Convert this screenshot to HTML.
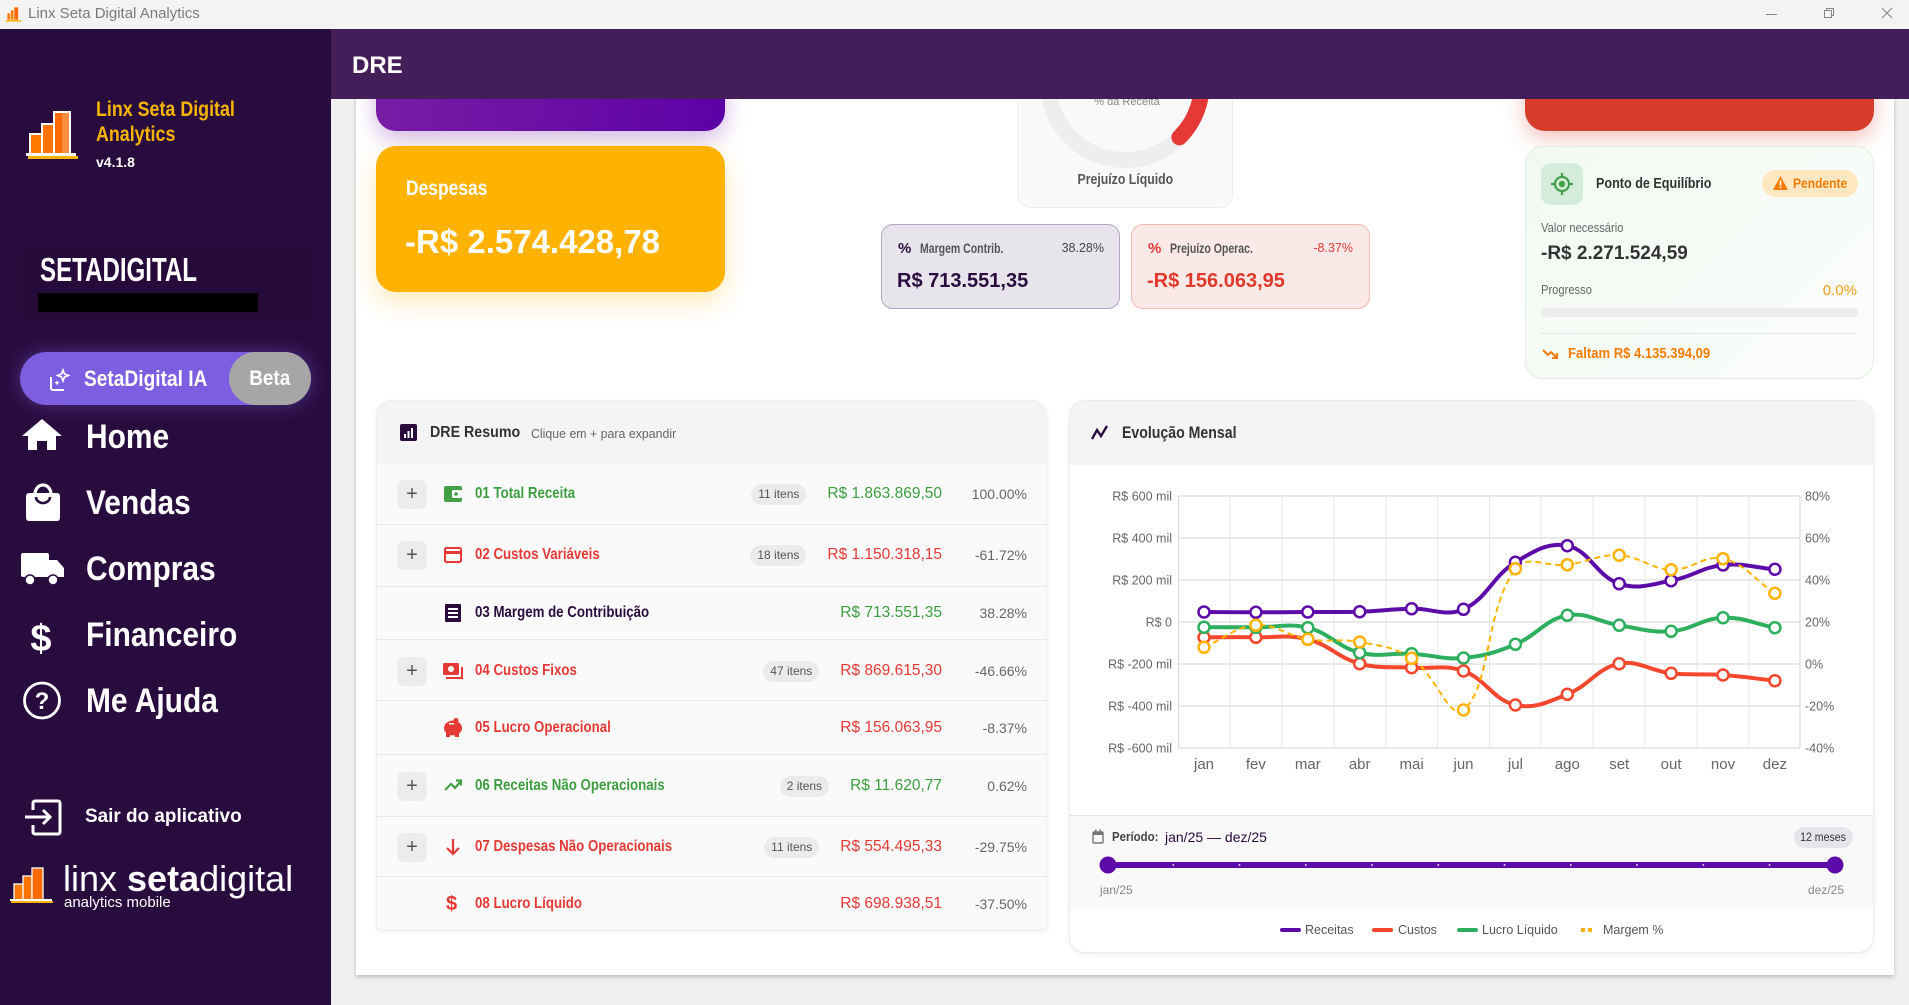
<!DOCTYPE html>
<html><head><meta charset="utf-8">
<style>
*{box-sizing:border-box;margin:0;padding:0}
body{width:1909px;height:1005px;overflow:hidden;position:relative;background:#f0f0f0;font-family:"Liberation Sans",sans-serif;color:#333}
.a{position:absolute}
.t{position:absolute;white-space:nowrap;height:20px;line-height:20px}
.s{display:inline-block;transform-origin:0 50%;white-space:nowrap}
.r{text-align:right}
.r .s{transform-origin:100% 50%}
.c{text-align:center}
.c .s{transform-origin:50% 50%}
.b{font-weight:bold}
.pl{position:absolute;left:397px;width:30px;height:29px;background:#ececec;border-radius:7px;color:#555;font-size:20px;line-height:28px;text-align:center}
.dv{position:absolute;left:376px;width:671px;height:1px;background:#e6e6e6}
.vb{position:absolute;right:967px;height:22px;display:flex;align-items:center;gap:21px;white-space:nowrap}
.bd{background:#ebebeb;border-radius:11px;height:21px;line-height:21px;padding:0 7px;font-size:12px;color:#555}
.vl{font-size:15.5px}
.pc{position:absolute;right:882px;height:20px;line-height:20px;font-size:14px;color:#666;white-space:nowrap}
.g{color:#3d9e40}.rd{color:#e53935}
.nv{position:absolute;left:86px;height:40px;line-height:40px;font-size:34px;font-weight:bold;color:#fff;white-space:nowrap}
</style></head><body>

<!-- sidebar -->
<div class="a" style="left:0;top:29px;width:331px;height:976px;background:#290c3e"></div>
<svg class="a" style="left:24px;top:108px" width="60" height="52" viewBox="0 0 60 52">
<rect x="6" y="26" width="12" height="20" fill="#ff7a00" stroke="#fff" stroke-width="2"/>
<rect x="18" y="16" width="12" height="30" fill="#ff7300" stroke="#fff" stroke-width="2"/>
<rect x="30" y="4" width="16" height="42" fill="#ff6a00" stroke="#fff" stroke-width="2"/>
<rect x="38" y="4" width="8" height="42" fill="#fff" opacity=".25"/>
<rect x="2" y="45" width="50" height="3" fill="#fff"/><rect x="4" y="48" width="50" height="3" fill="#ffb300"/>
</svg>
<div class="t b" style="left:96px;top:100px;font-size:21px;color:#f7b500"><span class="s" style="transform:scaleX(.85)">Linx Seta Digital</span></div>
<div class="t b" style="left:96px;top:125px;font-size:21px;color:#f7b500"><span class="s" style="transform:scaleX(.85)">Analytics</span></div>
<div class="t b" style="left:96px;top:152px;font-size:14px;color:#fff">v4.1.8</div>

<div class="a" style="left:21px;top:248px;width:289px;height:72px;background:#260a39;border-radius:10px"></div>
<div class="t b" style="left:40px;top:255px;height:30px;line-height:30px;font-size:33px;color:#fff"><span class="s" style="transform:scaleX(.73)">SETADIGITAL</span></div>
<div class="a" style="left:38px;top:293px;width:220px;height:19px;background:#000"></div>

<div class="a" style="left:20px;top:352px;width:291px;height:53px;background:#7d5ee0;border-radius:27px;box-shadow:0 0 18px rgba(125,94,224,.45)"></div>
<div class="a" style="left:229px;top:352px;width:82px;height:53px;background:#a6a6a6;border-radius:27px"></div>
<svg class="a" style="left:48px;top:368px" width="26" height="24" viewBox="0 0 26 24"><path d="M3 9v11a2 2 0 0 0 2 2h11" fill="none" stroke="#fff" stroke-width="2"/><path d="M15 2l1.5 4 4 1.5-4 1.5-1.5 4-1.5-4-4-1.5 4-1.5z" fill="none" stroke="#fff" stroke-width="1.6"/><path d="M9 12l.8 2 2 .8-2 .8-.8 2-.8-2-2-.8 2-.8z" fill="#fff"/></svg>
<div class="t b" style="left:84px;top:369px;font-size:22px;color:#fff"><span class="s" style="transform:scaleX(.87)">SetaDigital IA</span></div>
<div class="t b c" style="left:229px;top:369px;width:82px;font-size:21px;color:#fff"><span class="s" style="transform:scaleX(.9)">Beta</span></div>

<!-- nav icons -->
<svg class="a" style="left:0;top:400px" width="331" height="520" viewBox="0 400 331 520">
<path d="M42 419L62 436H56V450H47V441H37V450H28V436H22Z" fill="#fff"/>
<rect x="26" y="493" width="34" height="28" rx="3" fill="#fff"/>
<path d="M35 494a8 9 0 0 1 16 0" fill="none" stroke="#fff" stroke-width="3.2"/>
<path d="M36 497a7 6 0 0 0 14 0" fill="none" stroke="#290c3e" stroke-width="2.6"/>
<rect x="21" y="553" width="28" height="24" rx="2" fill="#fff"/>
<path d="M49 560h8l7 8v9H49Z" fill="#fff"/>
<circle cx="30" cy="580" r="5" fill="#fff" stroke="#290c3e" stroke-width="1.6"/>
<circle cx="53" cy="580" r="5" fill="#fff" stroke="#290c3e" stroke-width="1.6"/>
<text x="41" y="651" text-anchor="middle" font-family="Liberation Sans" font-weight="bold" font-size="38" fill="#fff">$</text>
<circle cx="42" cy="700.5" r="17.5" fill="none" stroke="#fff" stroke-width="2.8"/>
<text x="42" y="709" text-anchor="middle" font-family="Liberation Sans" font-weight="bold" font-size="24" fill="#fff">?</text>
<path d="M33 810V803a2 2 0 0 1 2-2h23a2 2 0 0 1 2 2v29a2 2 0 0 1-2 2H35a2 2 0 0 1-2-2v-7" fill="none" stroke="#fff" stroke-width="3"/>
<path d="M25 817H50M43 810L50 817L43 824" fill="none" stroke="#fff" stroke-width="3"/>
<rect x="14" y="884" width="9" height="16" fill="#ff7a00" stroke="#fff" stroke-width="1.3"/>
<rect x="23" y="876" width="9" height="24" fill="#ff7300" stroke="#fff" stroke-width="1.3"/>
<rect x="32" y="868" width="11" height="32" fill="#ff6a00" stroke="#fff" stroke-width="1.3"/>
<rect x="10" y="899" width="42" height="2" fill="#fff"/><rect x="11" y="901" width="42" height="2" fill="#ffb300"/>
</svg>
<div class="nv" style="top:417px"><span class="s" style="transform:scaleX(.88)">Home</span></div>
<div class="nv" style="top:483px"><span class="s" style="transform:scaleX(.88)">Vendas</span></div>
<div class="nv" style="top:549px"><span class="s" style="transform:scaleX(.88)">Compras</span></div>
<div class="nv" style="top:615px"><span class="s" style="transform:scaleX(.88)">Financeiro</span></div>
<div class="nv" style="top:681px"><span class="s" style="transform:scaleX(.88)">Me Ajuda</span></div>
<div class="t b" style="left:85px;top:806px;font-size:19.5px;color:#fff"><span class="s" style="transform:scaleX(.97)">Sair do aplicativo</span></div>
<div class="t" style="left:63px;top:859px;height:40px;line-height:40px;font-size:36px;color:#fff">linx <b>seta</b>digital</div>
<div class="t" style="left:64px;top:894px;height:18px;line-height:18px;font-size:15px;color:#fff">analytics mobile</div>

<!-- main panel -->
<div class="a" style="left:356px;top:29px;width:1538px;height:946px;background:#fff;box-shadow:0 2px 4px rgba(0,0,0,.22)"></div>

<!-- top cards -->
<div class="a" style="left:376px;top:20px;width:349px;height:111px;border-radius:20px;background:linear-gradient(100deg,#7a1da5,#5c02a6);box-shadow:0 8px 22px rgba(110,20,170,.3)"></div>
<div class="a" style="left:376px;top:146px;width:349px;height:146px;border-radius:20px;background:#ffb300;box-shadow:0 10px 26px rgba(255,179,0,.28)"></div>
<div class="t b" style="left:406px;top:179px;font-size:21px;color:#fff"><span class="s" style="transform:scaleX(.83)">Despesas</span></div>
<div class="t b" style="left:405px;top:226px;height:32px;line-height:32px;font-size:33px;color:#fff">-R$ 2.574.428,78</div>

<div class="a" style="left:1017px;top:30px;width:216px;height:178px;border-radius:14px;background:#f9f9f9;border:1px solid #ececec"></div>
<div class="t b c" style="left:1025px;top:170px;width:200px;font-size:15px;color:#555"><span class="s" style="transform:scaleX(.82)">Prejuízo Líquido</span></div>

<div class="a" style="left:881px;top:224px;width:239px;height:85px;border-radius:12px;background:#e8e4ec;border:1.5px solid #b3a6c2"></div>
<div class="t b" style="left:898px;top:239px;font-size:15px;color:#2a0b3e">%</div>
<div class="t b" style="left:920px;top:238px;font-size:14px;color:#555"><span class="s" style="transform:scaleX(.75)">Margem Contrib.</span></div>
<div class="t r" style="right:805px;top:238px;font-size:12.5px;color:#444">38.28%</div>
<div class="t b" style="left:897px;top:271px;font-size:20px;color:#2a0b3e">R$ 713.551,35</div>

<div class="a" style="left:1131px;top:224px;width:239px;height:85px;border-radius:12px;background:#fbe9e7;border:1.5px solid #f2b9b0"></div>
<div class="t b" style="left:1148px;top:239px;font-size:15px;color:#e53935">%</div>
<div class="t b" style="left:1170px;top:238px;font-size:14px;color:#555"><span class="s" style="transform:scaleX(.75)">Prejuízo Operac.</span></div>
<div class="t r" style="right:556px;top:238px;font-size:12.5px;color:#e53935">-8.37%</div>
<div class="t b" style="left:1147px;top:271px;font-size:20px;color:#e0392b">-R$ 156.063,95</div>

<div class="a" style="left:1525px;top:20px;width:349px;height:111px;border-radius:20px;background:#d63c2a;box-shadow:0 8px 22px rgba(214,60,42,.3)"></div>

<!-- ponto de equilibrio -->
<div class="a" style="left:1525px;top:146px;width:349px;height:233px;border-radius:18px;background:linear-gradient(135deg,#f2f9f2,#fbfdfb);border:1px solid #dfeedf"></div>
<div class="a" style="left:1541px;top:163px;width:42px;height:42px;border-radius:10px;background:#d4edda"></div>
<svg class="a" style="left:1550px;top:172px" width="24" height="24" viewBox="0 0 24 24"><circle cx="12" cy="12" r="7" fill="none" stroke="#43a047" stroke-width="2.2"/><circle cx="12" cy="12" r="3.2" fill="#43a047"/><path d="M12 1v4M12 19v4M1 12h4M19 12h4" stroke="#43a047" stroke-width="2.2"/></svg>
<div class="t b" style="left:1596px;top:174px;font-size:15px;color:#333"><span class="s" style="transform:scaleX(.84)">Ponto de Equilíbrio</span></div>
<div class="a" style="left:1762px;top:170px;width:96px;height:27px;border-radius:14px;background:#ffe7c2"></div>
<svg class="a" style="left:1772px;top:175px" width="17" height="16" viewBox="0 0 17 16"><path d="M8.5 1L16 15H1Z" fill="#f57c00"/><rect x="7.7" y="5.5" width="1.6" height="5" fill="#fff"/><rect x="7.7" y="11.6" width="1.6" height="1.6" fill="#fff"/></svg>
<div class="t b" style="left:1793px;top:173px;font-size:14px;color:#f57c00"><span class="s" style="transform:scaleX(.86)">Pendente</span></div>
<div class="t" style="left:1541px;top:218px;font-size:13px;color:#666"><span class="s" style="transform:scaleX(.86)">Valor necessário</span></div>
<div class="t b" style="left:1541px;top:243px;height:22px;line-height:22px;font-size:19px;color:#333">-R$ 2.271.524,59</div>
<div class="t" style="left:1541px;top:280px;font-size:13px;color:#666"><span class="s" style="transform:scaleX(.86)">Progresso</span></div>
<div class="t r" style="right:52px;top:281px;font-size:15px;color:#f39c12">0.0%</div>
<div class="a" style="left:1541px;top:308px;width:317px;height:9px;border-radius:5px;background:#ececec"></div>
<div class="a" style="left:1541px;top:333px;width:317px;height:1px;background:#e6e6e6"></div>
<svg class="a" style="left:1542px;top:347px" width="18" height="14" viewBox="0 0 18 14"><path d="M1 3l5 5 3-3 6 6M15 6v5h-5" fill="none" stroke="#f57c00" stroke-width="2"/></svg>
<div class="t b" style="left:1568px;top:344px;font-size:14.5px;color:#f57c00"><span class="s" style="transform:scaleX(.9)">Faltam R$ 4.135.394,09</span></div>

<!-- DRE Resumo card -->
<div class="a" style="left:376px;top:400px;width:671px;height:530px;border-radius:16px 16px 4px 4px;background:#fafafa;border:1px solid #eee;box-shadow:0 2px 6px rgba(0,0,0,.07);overflow:hidden"><div style="height:63px;background:#f4f4f4"></div></div>
<svg class="a" style="left:400px;top:424px" width="17" height="17"><rect width="17" height="17" rx="2" fill="#2a0b3e"/><rect x="4" y="10" width="2" height="4" fill="#fff"/><rect x="7.5" y="7" width="2" height="7" fill="#fff"/><rect x="11" y="4" width="2" height="10" fill="#fff"/></svg>
<div class="t b" style="left:430px;top:423px;font-size:16px;color:#333"><span class="s" style="transform:scaleX(.89)">DRE Resumo</span></div>
<div class="t" style="left:531px;top:424px;font-size:13px;color:#666"><span class="s" style="transform:scaleX(.95)">Clique em + para expandir</span></div>

<div class="dv" style="top:524px"></div><div class="dv" style="top:586px"></div><div class="dv" style="top:639px"></div><div class="dv" style="top:700px"></div><div class="dv" style="top:754px"></div><div class="dv" style="top:816px"></div><div class="dv" style="top:876px"></div>

<!-- row 1 -->
<div class="pl" style="top:480px">+</div>
<svg class="a" style="left:444px;top:485px" width="18" height="18"><rect x="0" y="1" width="18" height="16" rx="2" fill="#43a047"/><rect x="8" y="5" width="10" height="8" rx="1.5" fill="#fff"/><circle cx="12" cy="9" r="1.8" fill="#43a047"/></svg>
<div class="t b g" style="left:475px;top:484px;font-size:16px"><span class="s" style="transform:scaleX(.83)">01 Total Receita</span></div>
<div class="vb" style="top:483px"><span class="bd">11 itens</span><span class="vl g">R$ 1.863.869,50</span></div>
<div class="pc" style="top:484px">100.00%</div>
<!-- row 2 -->
<div class="pl" style="top:541px">+</div>
<svg class="a" style="left:444px;top:546px" width="18" height="18"><rect x="1" y="2" width="16" height="14" rx="1.5" fill="none" stroke="#e53935" stroke-width="2"/><rect x="1" y="5" width="16" height="3" fill="#e53935"/></svg>
<div class="t b rd" style="left:475px;top:545px;font-size:16px"><span class="s" style="transform:scaleX(.83)">02 Custos Variáveis</span></div>
<div class="vb" style="top:544px"><span class="bd">18 itens</span><span class="vl rd">R$ 1.150.318,15</span></div>
<div class="pc" style="top:545px">-61.72%</div>
<!-- row 3 -->
<svg class="a" style="left:445px;top:604px" width="16" height="18"><rect x="0" y="0" width="16" height="18" rx="1" fill="#2a0b3e"/><rect x="3" y="4" width="10" height="2" fill="#fff"/><rect x="3" y="8" width="10" height="2" fill="#fff"/><rect x="3" y="12" width="10" height="2" fill="#fff"/></svg>
<div class="t b" style="left:475px;top:603px;font-size:16px;color:#2a0b3e"><span class="s" style="transform:scaleX(.83)">03 Margem de Contribuição</span></div>
<div class="vb" style="top:602px"><span class="vl g">R$ 713.551,35</span></div>
<div class="pc" style="top:603px">38.28%</div>
<!-- row 4 -->
<div class="pl" style="top:657px">+</div>
<svg class="a" style="left:443px;top:662px" width="20" height="18"><rect x="0" y="1" width="16" height="12" rx="1.5" fill="#e53935"/><circle cx="8" cy="7" r="3" fill="#fff"/><path d="M3 16h16V5" fill="none" stroke="#e53935" stroke-width="2"/></svg>
<div class="t b rd" style="left:475px;top:661px;font-size:16px"><span class="s" style="transform:scaleX(.83)">04 Custos Fixos</span></div>
<div class="vb" style="top:660px"><span class="bd">47 itens</span><span class="vl rd">R$ 869.615,30</span></div>
<div class="pc" style="top:661px">-46.66%</div>
<!-- row 5 -->
<svg class="a" style="left:443px;top:718px" width="20" height="19"><ellipse cx="10" cy="10" rx="9" ry="7.5" fill="#e53935"/><rect x="3" y="14" width="4" height="5" fill="#e53935"/><rect x="12" y="14" width="4" height="5" fill="#e53935"/><circle cx="13" cy="2.5" r="2.5" fill="#e53935"/><rect x="6" y="5" width="5" height="1.5" fill="#fff"/></svg>
<div class="t b rd" style="left:475px;top:718px;font-size:16px"><span class="s" style="transform:scaleX(.83)">05 Lucro Operacional</span></div>
<div class="vb" style="top:717px"><span class="vl rd">R$ 156.063,95</span></div>
<div class="pc" style="top:718px">-8.37%</div>
<!-- row 6 -->
<div class="pl" style="top:772px">+</div>
<svg class="a" style="left:444px;top:778px" width="19" height="14"><path d="M1 12l6-6 4 4 6-7M12 2.5h5v5" fill="none" stroke="#43a047" stroke-width="2.2"/></svg>
<div class="t b g" style="left:475px;top:776px;font-size:16px"><span class="s" style="transform:scaleX(.83)">06 Receitas Não Operacionais</span></div>
<div class="vb" style="top:775px"><span class="bd">2 itens</span><span class="vl g">R$ 11.620,77</span></div>
<div class="pc" style="top:776px">0.62%</div>
<!-- row 7 -->
<div class="pl" style="top:833px">+</div>
<svg class="a" style="left:445px;top:838px" width="16" height="18"><path d="M8 1v15M2 10l6 6 6-6" fill="none" stroke="#e53935" stroke-width="2.2"/></svg>
<div class="t b rd" style="left:475px;top:837px;font-size:16px"><span class="s" style="transform:scaleX(.83)">07 Despesas Não Operacionais</span></div>
<div class="vb" style="top:836px"><span class="bd">11 itens</span><span class="vl rd">R$ 554.495,33</span></div>
<div class="pc" style="top:837px">-29.75%</div>
<!-- row 8 -->
<div class="t b rd" style="left:446px;top:893px;height:22px;line-height:22px;font-size:20px">$</div>
<div class="t b rd" style="left:475px;top:894px;font-size:16px"><span class="s" style="transform:scaleX(.83)">08 Lucro Líquido</span></div>
<div class="vb" style="top:893px"><span class="vl rd">R$ 698.938,51</span></div>
<div class="pc" style="top:894px">-37.50%</div>

<!-- chart card -->
<div class="a" style="left:1069px;top:400px;width:805px;height:553px;border-radius:16px;background:#fff;border:1px solid #ececec;box-shadow:0 2px 6px rgba(0,0,0,.06);overflow:hidden">
<div style="height:64px;background:#f4f4f4"></div>
<div style="position:absolute;left:0;top:414px;width:805px;height:93px;background:#f9f9f9;border-top:1px solid #e3e3e3"></div>
</div>
<svg class="a" style="left:1091px;top:425px" width="18" height="16"><path d="M1 14L6 5l4 6 6-10" fill="none" stroke="#2a0b3e" stroke-width="2.4"/></svg>
<div class="t b" style="left:1122px;top:423px;font-size:17px;color:#333"><span class="s" style="transform:scaleX(.83)">Evolução Mensal</span></div>

<svg class="a" style="left:1092px;top:829px" width="12" height="15"><rect x="1" y="3" width="10" height="11" rx="1" fill="none" stroke="#777" stroke-width="1.4"/><rect x="1" y="3" width="10" height="3" fill="#777"/><rect x="3" y="0.5" width="1.5" height="3.5" fill="#777"/><rect x="7.5" y="0.5" width="1.5" height="3.5" fill="#777"/></svg>
<div class="t b" style="left:1112px;top:827px;font-size:13px;color:#444"><span class="s" style="transform:scaleX(.88)">Período:</span></div>
<div class="t" style="left:1165px;top:827px;font-size:14px;color:#2a0b3e">jan/25 — dez/25</div>
<div class="a" style="left:1794px;top:827px;width:59px;height:21px;border-radius:11px;background:#e8e4ec"></div>
<div class="t c" style="left:1794px;top:827px;width:59px;font-size:12px;color:#333"><span class="s" style="transform:scaleX(.88)">12 meses</span></div>
<div class="t" style="left:1100px;top:880px;font-size:12px;color:#888">jan/25</div>
<div class="t r" style="right:65px;top:880px;font-size:12px;color:#888">dez/25</div>

<!-- legend -->
<div class="a" style="left:1280px;top:928px;width:21px;height:4px;border-radius:2px;background:#5c0aa8"></div>
<div class="t" style="left:1305px;top:920px;font-size:12.5px;color:#555">Receitas</div>
<div class="a" style="left:1372px;top:928px;width:21px;height:4px;border-radius:2px;background:#f4472d"></div>
<div class="t" style="left:1398px;top:920px;font-size:12.5px;color:#555">Custos</div>
<div class="a" style="left:1457px;top:928px;width:21px;height:4px;border-radius:2px;background:#2eaf5f"></div>
<div class="t" style="left:1482px;top:920px;font-size:12.5px;color:#555">Lucro Líquido</div>
<div class="a" style="left:1581px;top:928px;width:4px;height:4px;background:#ffb300"></div>
<div class="a" style="left:1588px;top:928px;width:4px;height:4px;background:#ffb300"></div>
<div class="t" style="left:1603px;top:920px;font-size:12.5px;color:#555">Margem %</div>

<!-- big svg: gauge + chart -->
<svg class="a" style="left:0;top:0" width="1909" height="1005" viewBox="0 0 1909 1005">
<circle cx="1125" cy="83" r="77" fill="none" stroke="#eeeeee" stroke-width="16"/>
<path d="M1125,6 A77,77 0 0 1 1179.4,137.4" fill="none" stroke="#e53935" stroke-width="16" stroke-linecap="round"/>
<text x="1127" y="105" text-anchor="middle" font-family="Liberation Sans" font-size="11" fill="#888">% da Receita</text>

<g stroke="#e8e8e8" stroke-width="1">
<path d="M1230 496V748M1282 496V748M1334 496V748M1386 496V748M1437.5 496V748M1489.5 496V748M1541 496V748M1593 496V748M1645 496V748M1697 496V748M1749 496V748"/>
</g>
<g stroke="#e4e4e4" stroke-width="1.6">
<path d="M1178 496H1800M1178 538H1800M1178 580H1800M1178 622H1800M1178 664H1800M1178 706H1800M1178 748H1800"/>
</g>
<path d="M1178.5 496V748M1800 496V748" stroke="#dcdcdc" stroke-width="1.2"/>
<g font-family="Liberation Sans" font-size="12.5" fill="#666" text-anchor="end">
<text x="1172" y="500.5">R$ 600 mil</text><text x="1172" y="542.5">R$ 400 mil</text><text x="1172" y="584.5">R$ 200 mil</text><text x="1172" y="626.5">R$ 0</text><text x="1172" y="668.5">R$ -200 mil</text><text x="1172" y="710.5">R$ -400 mil</text><text x="1172" y="752.5">R$ -600 mil</text>
</g>
<g font-family="Liberation Sans" font-size="12.5" fill="#666">
<text x="1805" y="500.5">80%</text><text x="1805" y="542.5">60%</text><text x="1805" y="584.5">40%</text><text x="1805" y="626.5">20%</text><text x="1805" y="668.5">0%</text><text x="1805" y="710.5">-20%</text><text x="1805" y="752.5">-40%</text>
</g>
<g font-family="Liberation Sans" font-size="15" fill="#666" text-anchor="middle">
<text x="1204" y="769">jan</text><text x="1255.9" y="769">fev</text><text x="1307.8" y="769">mar</text><text x="1359.7" y="769">abr</text><text x="1411.6" y="769">mai</text><text x="1463.5" y="769">jun</text><text x="1515.4" y="769">jul</text><text x="1567.3" y="769">ago</text><text x="1619.2" y="769">set</text><text x="1671.1" y="769">out</text><text x="1723" y="769">nov</text><text x="1774.9" y="769">dez</text>
</g>

<path id="pC" d="M1204,637.3 L1255.9,637.3 L1307.8,639.3 L1359.7,663.7 L1411.6,667.7 L1463.5,671 L1515.4,705 L1567.3,694.3 L1619.2,663.7 L1671.1,673.3 L1723,675 L1774.9,680.7" fill="none" stroke="#f4472d" stroke-width="4" stroke-linejoin="round"/>
<path id="pL" d="M1204,627.3 L1255.9,627.3 L1307.8,627.7 L1359.7,652.7 L1411.6,653.7 L1463.5,658 L1515.4,644.3 L1567.3,615.3 L1619.2,625.3 L1671.1,631.3 L1723,617.7 L1774.9,627.7" fill="none" stroke="#2eaf5f" stroke-width="4" stroke-linejoin="round"/>
<path id="pR" d="M1204,612 L1255.9,612.3 L1307.8,612 L1359.7,611.7 L1411.6,608.7 L1463.5,609.3 L1515.4,562.3 L1567.3,545.7 L1619.2,583.7 L1671.1,580.7 L1723,565 L1774.9,569.3" fill="none" stroke="#5c0aa8" stroke-width="4" stroke-linejoin="round"/>
<path id="pM" d="M1204,647.3 L1255.9,625.3 L1307.8,639.3 L1359.7,642 L1411.6,658.3 L1463.5,710 L1515.4,568.7 L1567.3,564.7 L1619.2,555.3 L1671.1,569.7 L1723,558.7 L1774.9,593.3" fill="none" stroke="#ffb300" stroke-width="2" stroke-dasharray="6 4"/>

<g fill="#fff" stroke="#f4472d" stroke-width="2.5">
<circle cx="1204" cy="637.3" r="5.5"/><circle cx="1255.9" cy="637.3" r="5.5"/><circle cx="1307.8" cy="639.3" r="5.5"/><circle cx="1359.7" cy="663.7" r="5.5"/><circle cx="1411.6" cy="667.7" r="5.5"/><circle cx="1463.5" cy="671" r="5.5"/><circle cx="1515.4" cy="705" r="5.5"/><circle cx="1567.3" cy="694.3" r="5.5"/><circle cx="1619.2" cy="663.7" r="5.5"/><circle cx="1671.1" cy="673.3" r="5.5"/><circle cx="1723" cy="675" r="5.5"/><circle cx="1774.9" cy="680.7" r="5.5"/>
</g>
<g fill="#fff" stroke="#2eaf5f" stroke-width="2.5">
<circle cx="1204" cy="627.3" r="5.5"/><circle cx="1255.9" cy="627.3" r="5.5"/><circle cx="1307.8" cy="627.7" r="5.5"/><circle cx="1359.7" cy="652.7" r="5.5"/><circle cx="1411.6" cy="653.7" r="5.5"/><circle cx="1463.5" cy="658" r="5.5"/><circle cx="1515.4" cy="644.3" r="5.5"/><circle cx="1567.3" cy="615.3" r="5.5"/><circle cx="1619.2" cy="625.3" r="5.5"/><circle cx="1671.1" cy="631.3" r="5.5"/><circle cx="1723" cy="617.7" r="5.5"/><circle cx="1774.9" cy="627.7" r="5.5"/>
</g>
<g fill="#fff" stroke="#5c0aa8" stroke-width="2.5">
<circle cx="1204" cy="612" r="5.5"/><circle cx="1255.9" cy="612.3" r="5.5"/><circle cx="1307.8" cy="612" r="5.5"/><circle cx="1359.7" cy="611.7" r="5.5"/><circle cx="1411.6" cy="608.7" r="5.5"/><circle cx="1463.5" cy="609.3" r="5.5"/><circle cx="1515.4" cy="562.3" r="5.5"/><circle cx="1567.3" cy="545.7" r="5.5"/><circle cx="1619.2" cy="583.7" r="5.5"/><circle cx="1671.1" cy="580.7" r="5.5"/><circle cx="1723" cy="565" r="5.5"/><circle cx="1774.9" cy="569.3" r="5.5"/>
</g>
<g fill="#fff" stroke="#ffb300" stroke-width="2.5">
<circle cx="1204" cy="647.3" r="5.5"/><circle cx="1255.9" cy="625.3" r="5.5"/><circle cx="1307.8" cy="639.3" r="5.5"/><circle cx="1359.7" cy="642" r="5.5"/><circle cx="1411.6" cy="658.3" r="5.5"/><circle cx="1463.5" cy="710" r="5.5"/><circle cx="1515.4" cy="568.7" r="5.5"/><circle cx="1567.3" cy="564.7" r="5.5"/><circle cx="1619.2" cy="555.3" r="5.5"/><circle cx="1671.1" cy="569.7" r="5.5"/><circle cx="1723" cy="558.7" r="5.5"/><circle cx="1774.9" cy="593.3" r="5.5"/>
</g>

<!-- slider -->
<rect x="1107" y="862" width="729" height="6" rx="3" fill="#5c0aa8"/>
<g fill="#fff" opacity=".8">
<circle cx="1173.3" cy="865" r="1"/><circle cx="1239.5" cy="865" r="1"/><circle cx="1305.8" cy="865" r="1"/><circle cx="1372" cy="865" r="1"/><circle cx="1438.3" cy="865" r="1"/><circle cx="1504.5" cy="865" r="1"/><circle cx="1570.8" cy="865" r="1"/><circle cx="1637" cy="865" r="1"/><circle cx="1703.3" cy="865" r="1"/><circle cx="1769.5" cy="865" r="1"/>
</g>
<circle cx="1108" cy="865" r="8.5" fill="#5c0aa8"/>
<circle cx="1835" cy="865" r="8.5" fill="#5c0aa8"/>
</svg>

<!-- header (over scrolled content) -->
<div class="a" style="left:331px;top:29px;width:1578px;height:70px;background:#431e59;z-index:10"></div>
<div class="t b" style="left:352px;top:52px;height:28px;line-height:28px;font-size:24px;color:#fff;z-index:11">DRE</div>

<!-- title bar (topmost) -->
<div class="a" style="left:0;top:0;width:1909px;height:29px;background:#f3f3f3;z-index:20"></div>
<svg class="a" style="left:5px;top:5px;z-index:21" width="16" height="17" viewBox="0 0 16 17"><rect x="2" y="8" width="3.5" height="7" fill="#ff7a00" stroke="#fff" stroke-width=".6"/><rect x="5.5" y="5" width="3.5" height="10" fill="#ff7a00" stroke="#fff" stroke-width=".6"/><rect x="9" y="2" width="4.5" height="13" fill="#ff6a00" stroke="#fff" stroke-width=".6"/><rect x="1" y="15" width="15" height="1.6" fill="#ffb300"/></svg>
<div class="t" style="left:28px;top:4px;font-size:15px;color:#7a7a7a;z-index:21">Linx Seta Digital Analytics</div>
<div class="a" style="left:1766px;top:14px;width:11px;height:1px;background:#888;z-index:21"></div>
<svg class="a" style="left:1823px;top:7px;z-index:21" width="12" height="12"><rect x="1.5" y="3.5" width="7" height="7" fill="none" stroke="#888"/><path d="M3.5 3.5V1.5h7v7h-2" fill="none" stroke="#888"/></svg>
<svg class="a" style="left:1881px;top:7px;z-index:21" width="12" height="12"><path d="M1 1L11 11M11 1L1 11" stroke="#888" stroke-width="1.1"/></svg>

<script>
(function(){
var X=[1204,1255.9,1307.8,1359.7,1411.6,1463.5,1515.4,1567.3,1619.2,1671.1,1723,1774.9];
function sp(ys){var P=ys.map(function(y,i){return [X[i],y]});var t=0.4,cp=[];
for(var i=0;i<P.length;i++){var p=P[i-1]||P[i],c=P[i],n=P[i+1]||P[i];
var d01=Math.hypot(c[0]-p[0],c[1]-p[1]),d12=Math.hypot(n[0]-c[0],n[1]-c[1]);var s=(d01+d12)||1;
var fa=t*d01/s,fb=t*d12/s;
cp.push([[c[0]-fa*(n[0]-p[0]),c[1]-fa*(n[1]-p[1])],[c[0]+fb*(n[0]-p[0]),c[1]+fb*(n[1]-p[1])]]);}
var d='M'+P[0][0]+','+P[0][1];
for(var j=1;j<P.length;j++){d+=' C'+cp[j-1][1][0].toFixed(1)+','+cp[j-1][1][1].toFixed(1)+' '+cp[j][0][0].toFixed(1)+','+cp[j][0][1].toFixed(1)+' '+P[j][0]+','+P[j][1];}
return d;}
var S={pR:[612,612.3,612,611.7,608.7,609.3,562.3,545.7,583.7,580.7,565,569.3],
pC:[637.3,637.3,639.3,663.7,667.7,671,705,694.3,663.7,673.3,675,680.7],
pL:[627.3,627.3,627.7,652.7,653.7,658,644.3,615.3,625.3,631.3,617.7,627.7],
pM:[647.3,625.3,639.3,642,658.3,710,568.7,564.7,555.3,569.7,558.7,593.3]};
for(var k in S){var e=document.getElementById(k);if(e)e.setAttribute('d',sp(S[k]));}
})();
</script>
</body></html>
